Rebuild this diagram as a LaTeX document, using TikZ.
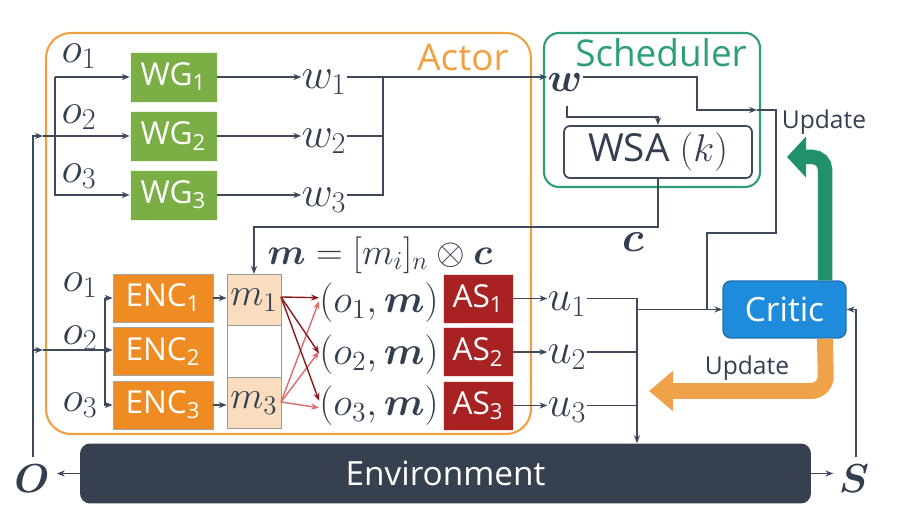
\RequirePackage{fix-cm}
\documentclass[tikz,border=0pt]{standalone}
\usepackage[no-math]{fontspec}
\usepackage{amsmath}
\usepackage{bm}
\setmainfont{Open Sans}
\usetikzlibrary{arrows.meta}
\definecolor{ink}{HTML}{333F50}
\definecolor{linec}{HTML}{3E4A5C}
\definecolor{wgc}{HTML}{7BAE44}
\definecolor{encc}{HTML}{EE8C23}
\definecolor{mcell}{HTML}{F9DDBE}
\definecolor{asc}{HTML}{A82222}
\definecolor{critc}{HTML}{1E8CDB}
\definecolor{critb}{HTML}{1F6FB0}
\definecolor{envc}{HTML}{36404F}
\definecolor{actc}{HTML}{F0A040}
\definecolor{schc}{HTML}{2E9E7A}
\definecolor{garr}{HTML}{21916B}
\definecolor{oarr}{HTML}{F0A24A}
\definecolor{dred}{HTML}{8B1A1A}
\definecolor{lred}{HTML}{E06A6A}
\begin{document}
\begin{tikzpicture}[x=0.02cm,y=-0.02cm,
  ln/.style={draw=linec, line width=0.9pt},
  arr/.style={ln, -{Stealth[length=4.5pt,width=3.5pt]}},
  mlab/.style={text=ink, inner sep=0pt, font=\fontsize{24.5}{27}\selectfont},
  wg/.style={fill=wgc, draw=white!85!wgc, minimum width=1.74cm, minimum height=1.0cm, text=white, inner sep=0pt, font=\fontsize{18}{20}\selectfont},
  enc/.style={fill=encc, draw=gray!70, minimum width=2.0cm, minimum height=0.96cm, text=white, inner sep=0pt, font=\fontsize{18}{20}\selectfont},
  mc/.style={draw=gray!80, minimum width=1.08cm, minimum height=1.03cm, inner sep=0pt, text=ink, font=\fontsize{22}{24}\selectfont},
  asb/.style={fill=asc, draw=white!85!asc, minimum width=1.4cm, minimum height=0.98cm, text=white, inner sep=0pt, font=\fontsize{18}{20}\selectfont},
  upd/.style={text=ink, font=\fontsize{14}{16}\selectfont, inner sep=0pt},
  garrow/.style={draw=garr, line width=0.29cm, rounded corners=0.25cm, -{Triangle[length=0.38cm,width=0.8cm]}},
  oarrow/.style={draw=oarr, line width=0.32cm, rounded corners=0.3cm, -{Triangle[length=0.48cm,width=0.78cm]}}
]
\useasboundingbox (0,0) rectangle (912,526);

% containers
\draw[actc, line width=1.2pt, rounded corners=0.5cm] (46,33) rectangle (531,434);
\node[text=actc, font=\fontsize{21}{24}\selectfont, inner sep=0pt] (actor) at (463,57) {Actor};
\draw[schc, line width=1.2pt, rounded corners=0.3cm] (544,33) rectangle (760,187);
\node[text=schc, font=\fontsize{21}{24}\selectfont, inner sep=0pt] (sched) at (661,53) {Scheduler};

% WG row
\node[wg] (wg1) at (173.5,77) {WG\textsubscript{1}};
\node[wg] (wg2) at (173.5,136) {WG\textsubscript{2}};
\node[wg] (wg3) at (173.5,195) {WG\textsubscript{3}};
\node[mlab] (ot1) at (79,56) {$o_1$};
\node[mlab] (ot2) at (79,117) {$o_2$};
\node[mlab] (ot3) at (79,176) {$o_3$};
\node[mlab] (w1) at (324,82) {$w_1$};
\node[mlab] (w2) at (324,141) {$w_2$};
\node[mlab] (w3) at (324,200) {$w_3$};
\draw[arr] (wg1.east) -- (wg1.east -| w1.west);
\draw[arr] (wg2.east) -- (wg2.east -| w2.west);
\draw[arr] (wg3.east) -- (wg3.east -| w3.west);
\coordinate (wb) at (383,0);
\draw[ln] (w2.east |- wg2) -- (wb |- wg2);
\draw[ln] (w3.east |- wg3) -- (wb |- wg3) -- (wb |- wg1);

% scheduler
\node[text=ink, inner sep=0pt, font=\fontsize{23}{26}\selectfont] (wbold) at (565,83) {$\bm{w}$};
\draw[arr] (w1.east |- wg1) -- (wbold.west |- wg1);
\node[draw=linec, line width=1pt, rounded corners=0.12cm, minimum width=3.76cm, minimum height=1.04cm, text=ink, inner sep=0pt, font=\fontsize{22}{24}\selectfont] (wsa) at (658,152) {WSA $(k)$};
\coordinate (wtap) at (567,106);
\coordinate (wtapy) at (0,117);
\draw[arr] (wtap) |- (wsa.north |- wtapy) -- (wsa.north);
\node[text=ink, inner sep=0pt, font=\fontsize{24}{26}\selectfont] (cbold) at (633,242) {$\bm{c}$};

% update path from w
\coordinate (up1) at (697,0);
\coordinate (upy) at (0,110);
\coordinate (upa) at (757,110);
\coordinate (upb) at (776,233);
\coordinate (upc) at (707,309);
\draw[arr] (wbold.east |- wg1) -| (up1 |- upy) -- (upa);
\draw[ln] (upa) -| (upb) -| (upc);

% environment and observations
\node[fill=envc, rounded corners=0.2cm, minimum width=14.62cm, minimum height=1.2cm, text=white, inner sep=0pt, font=\fontsize{19}{22}\selectfont] (env) at (445.5,473.5) {Environment};
\node[text=ink, inner sep=0pt, font=\fontsize{23}{26}\selectfont] (O) at (32,479) {$\bm{O}$};
\node[text=ink, inner sep=0pt, font=\fontsize{23}{26}\selectfont] (S) at (854,479) {$\bm{S}$};
\draw[arr, shorten >=4pt] (env.west) -- (O.east |- env);
\draw[arr, shorten >=3pt] (env.east) -- (S.west |- env);
\coordinate (Otop) at (33,457);
\coordinate (wgin) at (43,136);
\coordinate (encin) at (43,350);
\draw[arr] (Otop) |- (wgin);
\draw[arr] (wgin) -- (wg2.west);
\draw[arr] (Otop) |- (encin);
\coordinate (wgb) at (55,0);
\draw[arr] (wgb |- wg1) -- (wg1.west);
\draw[arr] (wgb |- wg1) -- (wgb |- wg3) -- (wg3.west);

% ENC row
\node[enc] (enc1) at (163,298) {ENC\textsubscript{1}};
\node[enc] (enc2) at (163,351.5) {ENC\textsubscript{2}};
\node[enc] (enc3) at (163,405) {ENC\textsubscript{3}};
\node[mlab] (eo1) at (80,285) {$o_1$};
\node[mlab] (eo2) at (80,338) {$o_2$};
\node[mlab] (eo3) at (80,405) {$o_3$};
\coordinate (eb) at (105,0);
\draw[arr] (eb |- enc1) -- (enc1.west);
\draw[arr] (eb |- enc1) -- (eb |- enc3) -- (enc3.west);
\draw[arr] (encin) -- (enc2.west |- encin);

% m cells
\node[mc, fill=mcell] (m1) at (254,300) {$m_1$};
\node[mc, fill=white] (m2) at (254,351.5) {};
\node[mc, fill=mcell] (m3) at (254,403) {$m_3$};
\draw[arr] (enc1.east) -- (enc1.east -| m1.west);
\draw[arr] (enc3.east) -- (enc3.east -| m3.west);
\coordinate (cy) at (0,227);
\draw[arr] (wsa.south) |- (m1.north |- cy) -- (m1.north);
\node[text=ink, inner sep=0pt, font=\fontsize{21}{24}\selectfont] (meq) at (380,255) {$\bm{m}=[m_i]_n\otimes\bm{c}$};

% (o,m) labels
\node[mlab, font=\fontsize{22.5}{25}\selectfont] (p1) at (379,303) {$(o_1,\bm{m})$};
\node[mlab, font=\fontsize{22.5}{25}\selectfont] (p2) at (379,355) {$(o_2,\bm{m})$};
\node[mlab, font=\fontsize{22.5}{25}\selectfont] (p3) at (379,406) {$(o_3,\bm{m})$};
\coordinate (m1o) at (281,297);
\coordinate (m3o) at (281,402);
\tikzset{dr/.style={draw=dred, line width=0.8pt, -{Stealth[length=4.5pt,width=3.5pt]}},
         lr/.style={draw=lred, line width=0.8pt, -{Stealth[length=4.5pt,width=3.5pt]}}}
\draw[lr] (m3o) -- ([yshift=1pt]p1.west);
\draw[lr] (m3o) -- ([yshift=2pt]p2.west);
\draw[lr] (m3o) -- ([yshift=-1pt]p3.west);
\draw[dr] (m1o) -- ([yshift=3pt]p1.west);
\draw[dr] (m1o) -- ([yshift=1pt]p2.west);
\draw[dr] (m1o) -- ([yshift=3pt]p3.west);

% AS
\node[asb] (as1) at (478,298.5) {AS\textsubscript{1}};
\node[asb] (as2) at (478,352) {AS\textsubscript{2}};
\node[asb] (as3) at (478,405.5) {AS\textsubscript{3}};
\node[mlab] (u1) at (567,304) {$u_1$};
\node[mlab] (u2) at (567,357) {$u_2$};
\node[mlab] (u3) at (567,410) {$u_3$};
\draw[arr] (as1.east) -- (as1.east -| u1.west);
\draw[arr] (as2.east) -- (as2.east -| u2.west);
\draw[arr] (as3.east) -- (as3.east -| u3.west);
\coordinate (ub) at (637,0);
\draw[ln] (u1.east |- as1) -- (ub |- as1);
\draw[ln] (u2.east |- as2) -- (ub |- as2);
\draw[ln] (u3.east |- as3) -- (ub |- as3);
\draw[arr] (ub |- as1) -- (ub |- env.north);

% critic
\node[fill=critc, draw=critb, line width=0.8pt, rounded corners=0.16cm, minimum width=2.46cm, minimum height=1.14cm, text=white, inner sep=0pt, font=\fontsize{19}{22}\selectfont] (critic) at (784.5,309.5) {Critic};
\draw[arr] (ub |- critic) -- (critic.west);
\coordinate (Stop) at (856,457);
\draw[arr] (Stop) |- (critic.east);

% thick update arrows
\coordinate (gx) at (825,0);
\coordinate (gturn) at (825,157);
\coordinate (gtip) at (787,157);
\draw[garrow] (gx |- critic.north) -- (gturn) -- (gtip);
\coordinate (oturn) at (826,391);
\coordinate (otip) at (649,391);
\draw[oarrow] (gx |- critic.south) -- (oturn) -- (otip);
\node[upd] (upd1) at (824,122) {Update};
\node[upd] (upd2) at (747,368) {Update};
\end{tikzpicture}
\end{document}
